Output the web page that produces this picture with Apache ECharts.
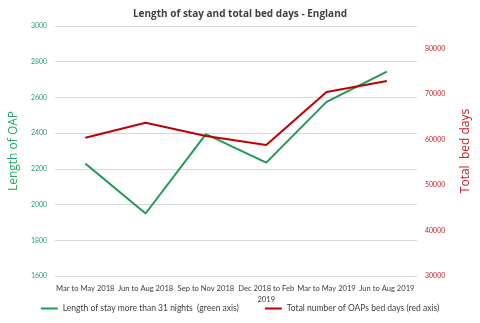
<!DOCTYPE html>
<html><head><meta charset="utf-8">
<script src="https://cdn.jsdelivr.net/npm/echarts@6/dist/echarts.min.js"></script>
<style>html,body{margin:0;padding:0;background:#fff}#c{width:480px;height:323px}</style>
</head><body><div id="c"></div>
<script>
var categories = ["Mar to May 2018","Jun to Aug 2018","Sep to Nov 2018","Dec 2018 to Feb\n2019","Mar to May 2019","Jun to Aug 2019"];
var lengthOfStay = [2230, 1950, 2395, 2235, 2575, 2745];
var bedDays = [60400, 63700, 60800, 58800, 70500, 72900];
var leftTicks = {min:1600, max:3000, interval:200};
var rightTicks = {min:30000, max:85000, interval:10000};

var green = '#1f9a55', red = '#c00000';
var F = 'Lato';
var chart = echarts.init(document.getElementById('c'));
chart.setOption({
  animation:false,
  title:{text:'Length of stay and total bed days - England', left:'center', top:4,
    textStyle:{fontFamily:'Open Sans', fontSize:10, fontWeight:'bold', color:'#404040'}},
  grid:{left:45, right:47, top:26, bottom:47},
  legend:{bottom:5, left:'center', itemGap:26, itemWidth:17, itemHeight:2,
    icon:'rect', textStyle:{fontFamily:F, fontSize:8.5, color:'#404040'},
    data:['Length of stay more than 31 nights  (green axis)','Total number of OAPs bed days (red axis)']},
  xAxis:{type:'category', data:categories, boundaryGap:true,
    axisLine:{show:false}, axisTick:{show:false},
    axisLabel:{fontFamily:F, fontSize:7.6, color:'#404040', margin:7, interval:0, lineHeight:11}},
  yAxis:[
    {type:'value', min:leftTicks.min, max:leftTicks.max, interval:leftTicks.interval,
     name:'Length of OAP', nameLocation:'middle', nameGap:27,
     nameTextStyle:{fontFamily:'Open Sans', fontSize:12, color:'#22a860'},
     axisLine:{show:false}, axisTick:{show:false},
     axisLabel:{fontFamily:F, fontSize:7, color:'#2a9d6e', margin:8, formatter:function(v){return String(v);}},
     splitLine:{lineStyle:{color:'#d9d9d9', width:1}}},
    {type:'value', min:rightTicks.min, max:rightTicks.max, interval:rightTicks.interval,
     name:'Total  bed days', nameLocation:'middle', nameGap:43,
     nameTextStyle:{fontFamily:'Open Sans', fontSize:12, color:'#c0262d'},
     axisLine:{show:false}, axisTick:{show:false}, splitLine:{show:false},
     axisLabel:{fontFamily:F, fontSize:7, color:'#c0262d', margin:8, showMaxLabel:false, formatter:function(v){return String(v);}}}
  ],
  series:[
    {name:'Length of stay more than 31 nights  (green axis)', type:'line', yAxisIndex:0,
     data:lengthOfStay, symbol:'none', lineStyle:{color:green, width:2}, itemStyle:{color:green}},
    {name:'Total number of OAPs bed days (red axis)', type:'line', yAxisIndex:1,
     data:bedDays, symbol:'none', lineStyle:{color:red, width:2}, itemStyle:{color:red}}
  ]
});
</script></body></html>
